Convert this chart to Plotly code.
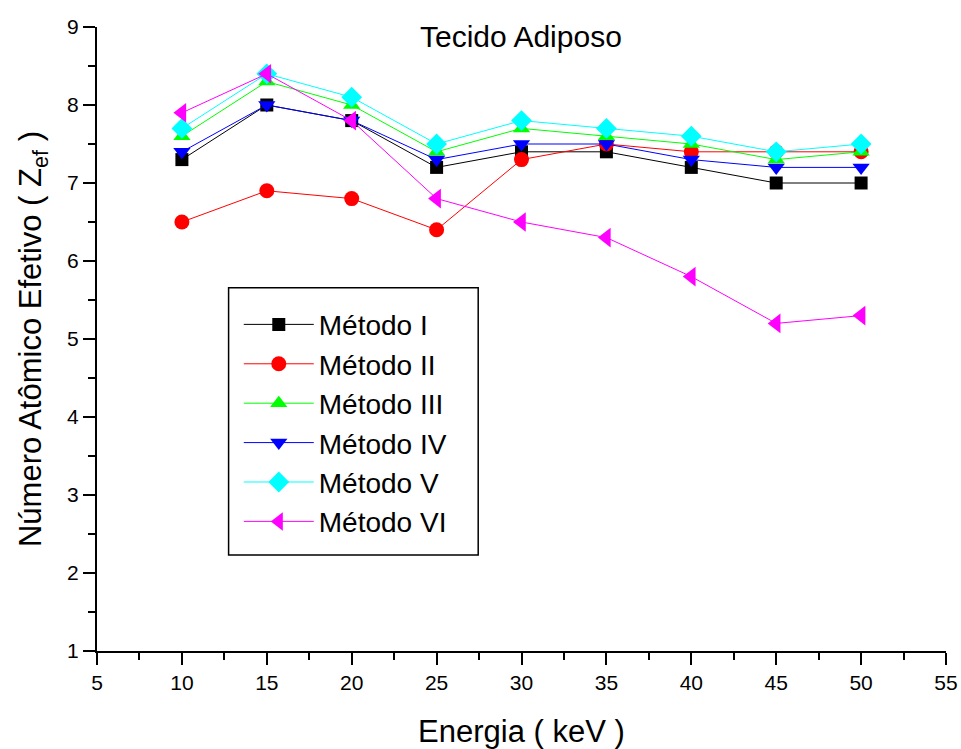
import plotly.graph_objects as go

energia = [10, 15, 20, 25, 30, 35, 40, 45, 50]
metodo_i = [7.3, 8.0, 7.8, 7.2, 7.4, 7.4, 7.2, 7.0, 7.0]
metodo_ii = [6.5, 6.9, 6.8, 6.4, 7.3, 7.5, 7.4, 7.4, 7.4]
metodo_iii = [7.6, 8.3, 8.0, 7.4, 7.7, 7.6, 7.5, 7.3, 7.4]
metodo_iv = [7.4, 8.0, 7.8, 7.3, 7.5, 7.5, 7.3, 7.2, 7.2]
metodo_v = [7.7, 8.4, 8.1, 7.5, 7.8, 7.7, 7.6, 7.4, 7.5]
metodo_vi = [7.9, 8.4, 7.8, 6.8, 6.5, 6.3, 5.8, 5.2, 5.3]

series = [
    ("Método I", metodo_i, "black", "square", 13),
    ("Método II", metodo_ii, "red", "circle", 15),
    ("Método III", metodo_iii, "#00FF00", "triangle-up", 15),
    ("Método IV", metodo_iv, "blue", "triangle-down", 15),
    ("Método V", metodo_v, "cyan", "diamond", 16),
    ("Método VI", metodo_vi, "magenta", "triangle-left", 17),
]

fig = go.Figure()
for name, vals, color, sym, size in series:
    fig.add_trace(go.Scatter(
        x=energia, y=vals, name=name, mode="lines+markers",
        line=dict(color=color, width=1),
        marker=dict(symbol=sym, color=color, size=size),
    ))

font = "Liberation Sans, Arial, sans-serif"
fig.update_layout(
    width=961, height=749,
    margin=dict(l=97, r=15, t=27, b=98),
    plot_bgcolor="white", paper_bgcolor="white",
    font=dict(family=font, color="black"),
    showlegend=True,
    legend=dict(
        x=0.167, y=0.563, xanchor="left", yanchor="top",
        borderwidth=0, bgcolor="rgba(0,0,0,0)",
        font=dict(size=28, family=font), itemwidth=70,
        tracegroupgap=0,
    ),
    shapes=[dict(
        type="rect", xref="paper", yref="paper",
        x0=0.155, x1=0.449, y0=0.154, y1=0.582,
        line=dict(color="black", width=1.5), layer="above",
    )],
    annotations=[dict(
        text="Tecido Adiposo", x=0.4994, y=0.985, xref="paper", yref="paper",
        xanchor="center", yanchor="middle", showarrow=False,
        font=dict(size=30, family=font),
    )],
)
fig.update_xaxes(
    range=[5, 55], tick0=5, dtick=5, showgrid=False, zeroline=False,
    showline=True, linecolor="black", linewidth=2, automargin=False,
    ticks="outside", ticklen=12, tickwidth=2, tickcolor="black",
    tickfont=dict(size=21),
    minor=dict(ticks="outside", ticklen=7, tickwidth=2, dtick=2.5, tick0=5, tickcolor="black"),
    title=dict(text="Energia ( keV )", font=dict(size=31), standoff=28),
)
fig.update_yaxes(
    range=[1, 9], tick0=1, dtick=1, showgrid=False, zeroline=False,
    showline=True, linecolor="black", linewidth=2, automargin=False,
    ticks="outside", ticklen=12, tickwidth=2, tickcolor="black",
    tickfont=dict(size=21),
    minor=dict(ticks="outside", ticklen=7, tickwidth=2, dtick=0.5, tick0=1, tickcolor="black"),
    title=dict(text="Número Atômico Efetivo ( Z<sub>ef</sub> )", font=dict(size=31), standoff=16),
)

fig.write_html(
    "out.html",
    config={"displayModeBar": False},
    post_script="document.body.style.margin='0';document.body.style.overflow='hidden';",
)
